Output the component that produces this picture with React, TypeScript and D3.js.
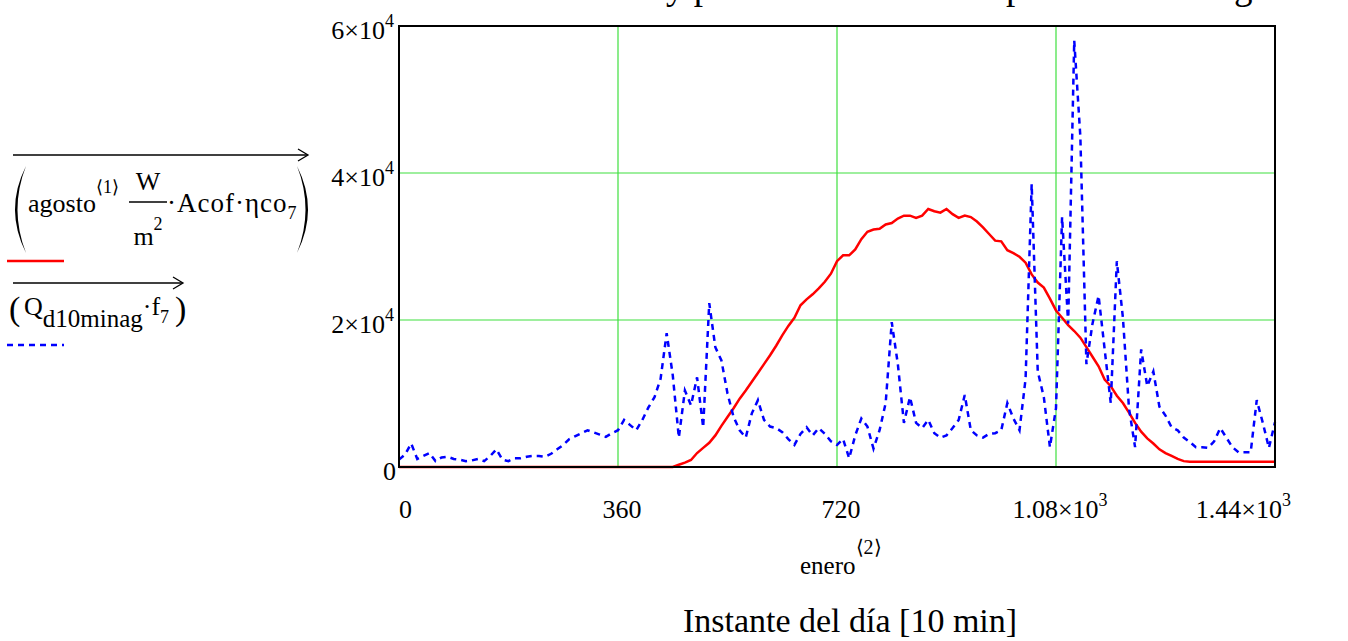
import React from "react";
import * as d3 from "d3";

// time index (minutes of the day, 10-min steps)
const STEP_MIN = 10;
// Q_d10minag·f7  (blue dashed)
const demand: number[] = [
  1000, 1700, 3200, 1100, 1500, 1900, 800, 1300, 1400, 1100,
  1000, 800, 900, 1100, 800, 1500, 2400, 1000, 800, 1200,
  1200, 1400, 1500, 1500, 1400, 1800, 2400, 3000, 3800, 4200,
  4600, 5000, 4700, 4400, 4100, 4600, 5000, 6400, 5700, 5000,
  6400, 8100, 9500, 12000, 18200, 12500, 4000, 10400, 8400, 12200,
  5400, 22300, 16300, 14500, 10000, 6800, 5000, 4000, 7300, 9100,
  6400, 5500, 5300, 4750, 3800, 3000, 4500, 5400, 4300, 5300,
  4500, 3500, 3000, 3800, 1200, 4300, 6600, 5500, 2500, 5000,
  8700, 19700, 14000, 6000, 9500, 6000, 5300, 6400, 4600, 4000,
  4300, 5300, 6400, 9800, 5000, 4300, 4000, 4500, 4600, 5000,
  8700, 6600, 5000, 12000, 38500, 13000, 9500, 2700, 8000, 34000,
  19500, 58000, 45000, 14000, 19500, 23300, 16000, 8700, 28000, 20300,
  8000, 2700, 16000, 11000, 13000, 8200, 7000, 5400, 5000, 4000,
  3400, 2700, 2700, 2600, 3500, 5300, 4000, 2700, 2000, 2000,
  2000, 9100, 6000, 2600, 6100,
];
// agosto<1> W/m2 · Acof · ηco7  (red solid)
const solar: number[] = [
  0, 0, 0, 0, 0, 0, 0, 0, 0, 0,
  0, 0, 0, 0, 0, 0, 0, 0, 0, 0,
  0, 0, 0, 0, 0, 0, 0, 0, 0, 0,
  0, 0, 0, 0, 0, 0, 0, 0, 0, 0,
  0, 0, 0, 0, 0, 0, 300, 600, 950, 1900,
  2600, 3300, 4300, 5600, 6800, 8000, 9300, 10400, 11600, 12800,
  14000, 15200, 16500, 17900, 19200, 20300, 22000, 22800, 23500, 24300,
  25200, 26300, 28000, 28800, 28800, 29600, 31000, 32000, 32300, 32400,
  33000, 33200, 33800, 34200, 34200, 33900, 34200, 35100, 34800, 34600,
  35100, 34400, 33900, 34200, 34000, 33400, 32600, 31700, 30800, 30700,
  29500, 29100, 28600, 27800, 26200, 25100, 24400, 22900, 21300, 20300,
  19300, 18500, 17600, 16300, 15000, 13700, 11900, 11000, 9700, 8700,
  7400, 6000, 4800, 3900, 3200, 2400, 1900, 1500, 1100, 800,
  700, 700, 700, 700, 700, 700, 700, 700, 700, 700,
  700, 700, 700, 700, 700,
];
const xTicks = [0, 360, 720, 1080, 1440];
const xTickMain = ["0", "360", "720", "1.08×10", "1.44×10"];
const xTickSup = ["", "", "", "3", "3"];
const yTicks = [0, 20000, 40000, 60000];
const yTickMain = ["0", "2×10", "4×10", "6×10"];
const yTickSup = ["", "4", "4", "4"];

const SERIF = "'Liberation Serif', 'Times New Roman', serif";

export default function App() {
  const L = 399, R = 1275, T = 26, B = 467;
  const x = d3.scaleLinear().domain([0, 1440]).range([L, R]);
  const y = d3.scaleLinear().domain([0, 60000]).range([B, T]);
  const line = d3
    .line<number>()
    .x((_, i) => x(i * STEP_MIN))
    .y((d) => y(d));

  const crescent = (x0: number, y0: number, y1: number, outer: number, inner: number) => {
    const ym = (y0 + y1) / 2;
    return `M${x0},${y0} Q${outer},${ym} ${x0},${y1} Q${inner},${ym} ${x0},${y0} Z`;
  };

  return (
    <svg
      width={1348}
      height={641}
      style={{ position: "absolute", left: 0, top: 0, background: "#fff" }}
      fontFamily={SERIF}
    >
      <rect x={0} y={0} width={1348} height={641} fill="#fff" />
      {/* title, cut off at the top edge as in the original */}
      <text x={662} y={-1} fontSize={37} textAnchor="end">Calor útil solar</text>
      <text x={666} y={-1} fontSize={37}>y potencia demandada por la casa en agosto</text>

      {/* grid */}
      {xTicks.slice(1, -1).map((t) => (
        <line key={"gx" + t} x1={x(t)} x2={x(t)} y1={T} y2={B} stroke="#3ee03e" strokeWidth={1.2} />
      ))}
      {yTicks.slice(1, -1).map((t) => (
        <line key={"gy" + t} x1={L} x2={R} y1={y(t)} y2={y(t)} stroke="#3ee03e" strokeWidth={1.2} />
      ))}

      {/* series */}
      <path d={line(solar) || ""} fill="none" stroke="#ff0000" strokeWidth={2.5} />
      <path d={line(demand) || ""} fill="none" stroke="#0000ff" strokeWidth={2.5} strokeDasharray="6,5" />

      {/* frame */}
      <rect x={L} y={T} width={R - L} height={B - T} fill="none" stroke="#000" strokeWidth={2} />

      {/* y tick labels */}
      {yTicks.map((t, i) => (
        <text key={"yl" + t} x={yTickSup[i] ? 394 : 396} y={y(t) + 13} fontSize={26} textAnchor="end">
          {yTickMain[i]}
          {yTickSup[i] && (
            <tspan dy={-12} fontSize={18}>{yTickSup[i]}</tspan>
          )}
        </text>
      ))}

      {/* x tick labels */}
      {xTicks.map((t, i) => {
        const last = i === xTicks.length - 1;
        const anchor = i === 0 ? "start" : last ? "end" : "middle";
        const px = i === 0 ? x(t) : last ? x(t) + 16 : x(t) + 4;
        return (
          <text key={"xl" + t} x={px} y={518} fontSize={26} textAnchor={anchor}>
            {xTickMain[i]}
            {xTickSup[i] && (
              <tspan dy={-12} fontSize={18}>{xTickSup[i]}</tspan>
            )}
          </text>
        );
      })}

      {/* x axis labels */}
      <text x={800} y={574} fontSize={25}>
        enero
        <tspan dy={-20} fontSize={20}>⟨2⟩</tspan>
      </text>
      <text x={850} y={632} fontSize={34} textAnchor="middle">Instante del día [10 min]</text>

      {/* legend 1 */}
      <line x1={13} x2={307} y1={155} y2={155} stroke="#000" strokeWidth={1.3} />
      <path d="M298,149 L308,155 L298,161" fill="none" stroke="#000" strokeWidth={1.3} />
      <path d={crescent(26, 166, 253, 4, 9)} fill="#000" />
      <path d={crescent(297, 166, 253, 319, 314)} fill="#000" />
      <text x={28} y={212} fontSize={26}>
        agosto
        <tspan dy={-19} fontSize={18}>⟨1⟩</tspan>
      </text>
      <text x={148} y={190} fontSize={26} textAnchor="middle">W</text>
      <line x1={129} x2={167} y1={202} y2={202} stroke="#000" strokeWidth={1.3} />
      <text x={148} y={245} fontSize={26} textAnchor="middle">
        m
        <tspan dy={-15} fontSize={18}>2</tspan>
      </text>
      <text x={167} y={212} fontSize={27} letterSpacing={1}>
        ·Acof·ηco
        <tspan dy={7} fontSize={18}>7</tspan>
      </text>
      <line x1={7} x2={64} y1={261} y2={261} stroke="#ff0000" strokeWidth={2.5} />

      {/* legend 2 */}
      <line x1={13} x2={182} y1={283} y2={283} stroke="#000" strokeWidth={1.3} />
      <path d="M173,277 L183,283 L173,289" fill="none" stroke="#000" strokeWidth={1.3} />
      <text x={9} y={320} fontSize={34}>(</text>
      <text x={24} y={315} fontSize={26}>
        Q
        <tspan dy={12} fontSize={25}>d10minag</tspan>
        <tspan dy={-12} fontSize={26}>·f</tspan>
        <tspan dy={8} fontSize={18}>7</tspan>
      </text>
      <text x={175} y={320} fontSize={34}>)</text>
      <line x1={7} x2={64} y1={345} y2={345} stroke="#0000ff" strokeWidth={2.5} strokeDasharray="6,5" />
    </svg>
  );
}
